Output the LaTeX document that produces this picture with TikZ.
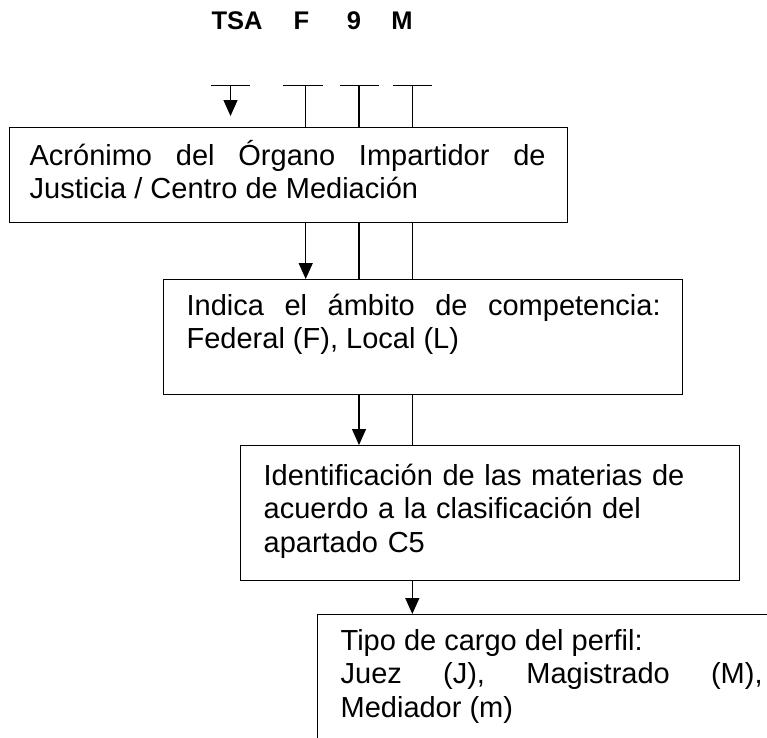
\documentclass[tikz,border=0pt]{standalone}
\usepackage{fontspec}
\setmainfont{Liberation Sans}
\usetikzlibrary{arrows.meta}
\tolerance=10000
\hbadness=10000
\hyphenpenalty=10000
\begin{document}
\begin{tikzpicture}[
    x=1pt, y=-1pt,
    line width=1.3pt,
    >={Triangle[width=14pt,length=16pt]},
    box/.style={draw, rectangle, anchor=north west, inner sep=0pt},
    txt/.style={anchor=base west, inner sep=0pt, font=\fontsize{29pt}{33.5pt}\selectfont},
    code/.style={anchor=base, inner sep=0pt, font=\fontsize{25.5pt}{30pt}\selectfont\bfseries}
]
    \useasboundingbox (0,0) rectangle (767,737);
    \clip (0,0) rectangle (767,737);

    % Code parts
    \node[code] (cTSA) at (237,29.3) {TSA};
    \node[code] (cF) at (301.5,29.3) {F};
    \node[code] (c9) at (354,29.3) {9};
    \node[code] (cM) at (402,29.3) {M};

    % Tick marks
    \coordinate (kTSA) at (230.5,85.7);
    \coordinate (kTSAend) at (230.5,116);
    \coordinate (kF) at (305.7,85.7);
    \coordinate (k9) at (359,85.7);
    \coordinate (kM) at (412.3,85.7);
    \foreach \a/\b in {210.7/250.3, 282.7/322.7, 340/379.3, 392.7/432.3}
        \draw (\a,85.7) -- (\b,85.7);

    % Boxes
    \node[box, minimum width=558pt, minimum height=95pt] (box1) at (9,127) {};
    \node[box, minimum width=519pt, minimum height=115pt] (box2) at (163,279) {};
    \node[box, minimum width=499pt, minimum height=135pt] (box3) at (240,445) {};
    \node[box, minimum width=480pt, minimum height=160pt] (box4) at (316.7,614) {};

    % Texts
    \node[txt, text width=516pt, align=justify] (t1) at ([shift={(20,38)}]box1.north west)
        {Acrónimo del Órgano Impartidor de Justicia / Centro de Mediación};
    \node[txt, text width=474pt, align=justify] (t2) at ([shift={(23,36)}]box2.north west)
        {Indica el ámbito de competencia: Federal (F), Local (L)};
    \node[txt, text width=460pt, align=left] (t3) at ([shift={(23,40)}]box3.north west)
        {Identificación de las materias de\\acuerdo a la clasificación del\\apartado C5};
    \node[txt, text width=422pt, align=justify] (t4) at ([shift={(23.3,36)}]box4.north west)
        {Tipo de cargo del perfil:\\Juez (J), Magistrado (M), Mediador (m)};

    % Connectors
    \draw[->] (kTSA) -- (kTSAend);
    \draw (kF) -- (kF |- box1.north);
    \draw (k9) -- (k9 |- box1.north);
    \draw (kM) -- (kM |- box1.north);
    \draw[->] (kF |- box1.south) -- (kF |- box2.north);
    \draw (k9 |- box1.south) -- (k9 |- box2.north);
    \draw (kM |- box1.south) -- (kM |- box2.north);
    \draw[->] (k9 |- box2.south) -- (k9 |- box3.north);
    \draw (kM |- box2.south) -- (kM |- box3.north);
    \draw[->] (kM |- box3.south) -- (kM |- box4.north);
\end{tikzpicture}
\end{document}
